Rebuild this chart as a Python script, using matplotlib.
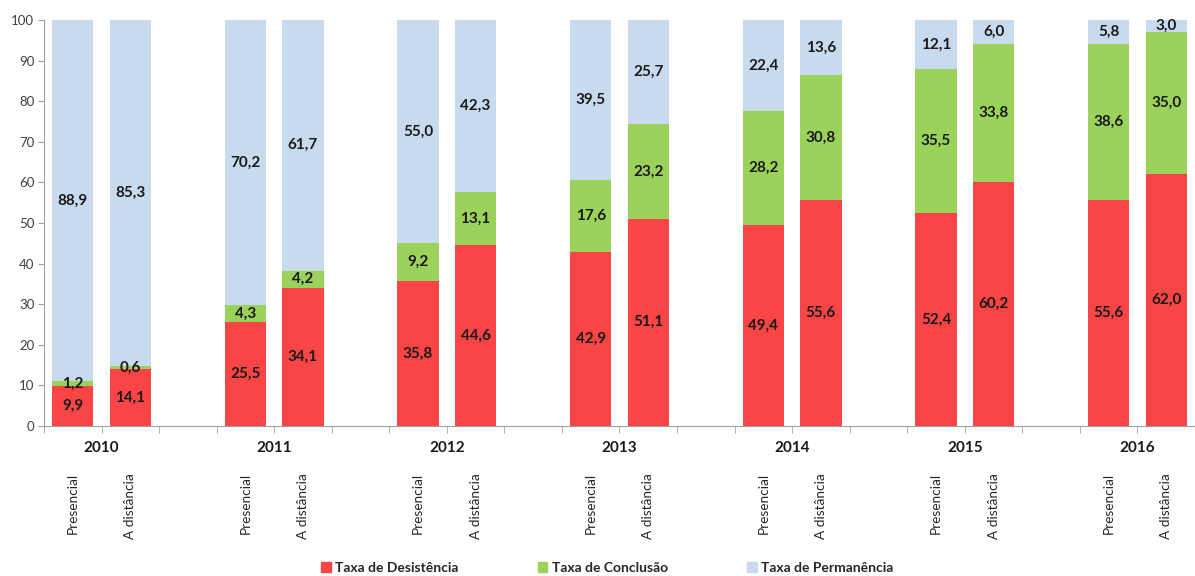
import numpy as np
import matplotlib.pyplot as plt
from matplotlib.patches import Patch
import matplotlib.transforms as mtransforms

plt.rcParams['font.family'] = ['Lato', 'DejaVu Sans']

anos = ['2010', '2011', '2012', '2013', '2014', '2015', '2016']
modalidades = ['Presencial', 'A distância']

# Presencial
pres_desist = [9.9, 25.5, 35.8, 42.9, 49.4, 52.4, 55.6]
pres_concl = [1.2, 4.3, 9.2, 17.6, 28.2, 35.5, 38.6]
pres_perm = [88.9, 70.2, 55.0, 39.5, 22.4, 12.1, 5.8]

# A distancia
dist_desist = [14.1, 34.1, 44.6, 51.1, 55.6, 60.2, 62.0]
dist_concl = [0.6, 4.2, 13.1, 23.2, 30.8, 33.8, 35.0]
dist_perm = [85.3, 61.7, 42.3, 25.7, 13.6, 6.0, 3.0]

cor_desist = '#F94545'
cor_concl = '#9BD25C'
cor_perm = '#C8DAEE'

fig = plt.figure(figsize=(11.95, 5.76), dpi=100)
ax = fig.add_axes([0.0368, 0.2604, 0.9632, 0.7049])

g = np.arange(len(anos)) * 3
x_pres = g
x_dist = g + 1
w = 0.72

def fmt(v):
    return f'{v:.1f}'.replace('.', ',')

for x, d, c, p in [(x_pres, pres_desist, pres_concl, pres_perm),
                   (x_dist, dist_desist, dist_concl, dist_perm)]:
    d = np.array(d); c = np.array(c); p = np.array(p)
    b1 = ax.bar(x, d, w, color=cor_desist, zorder=2)
    b2 = ax.bar(x, c, w, bottom=d, color=cor_concl, zorder=2)
    b3 = ax.bar(x, p, w, bottom=d + c, color=cor_perm, zorder=2)
    for bars, vals in [(b1, d), (b2, c), (b3, p)]:
        ax.bar_label(bars, labels=[fmt(v) for v in vals], label_type='center',
                     fontsize=11, fontweight='bold', color='#1a1a1a')

ax.set_ylim(0, 100)
ax.set_xlim(-0.5, 19.31)
ax.set_yticks(np.arange(0, 101, 10))
ax.tick_params(axis='y', labelsize=9.5, labelcolor='#404040', color='#a0a0a0',
               length=4, pad=3)

xt = np.sort(np.concatenate([x_pres, x_dist]))
ax.set_xticks(xt)
ax.set_xticklabels(modalidades * len(anos), rotation=90, va='top', ha='center',
                   fontsize=9.8, color='#262626')
ax.tick_params(axis='x', which='major', length=0, pad=34)
ax.set_xticks(np.arange(-0.5, 20, 1), minor=True)
ax.tick_params(axis='x', which='minor', length=5, color='#a0a0a0')

trans = mtransforms.blended_transform_factory(ax.transData, ax.transAxes)
for xi, ano in zip(g, anos):
    ax.text(xi + 0.5, -0.054, ano, transform=trans, ha='center', va='center',
            fontsize=11, fontweight='bold', color='#1a1a1a')

for s in ['top', 'right']:
    ax.spines[s].set_visible(False)
for s in ['left', 'bottom']:
    ax.spines[s].set_color('#a0a0a0')

handles = [Patch(color=cor_desist, label='Taxa de Desistência'),
           Patch(color=cor_concl, label='Taxa de Conclusão'),
           Patch(color=cor_perm, label='Taxa de Permanência')]
leg = fig.legend(handles=handles, loc='center', bbox_to_anchor=(0.508, 0.014),
                 ncol=3, frameon=False, handlelength=0.7, handleheight=0.7,
                 handletextpad=0.3, columnspacing=5.7,
                 prop={'size': 10, 'weight': 'bold'})
for t in leg.get_texts():
    t.set_color('#262626')

fig.savefig('out.png', dpi=100)
